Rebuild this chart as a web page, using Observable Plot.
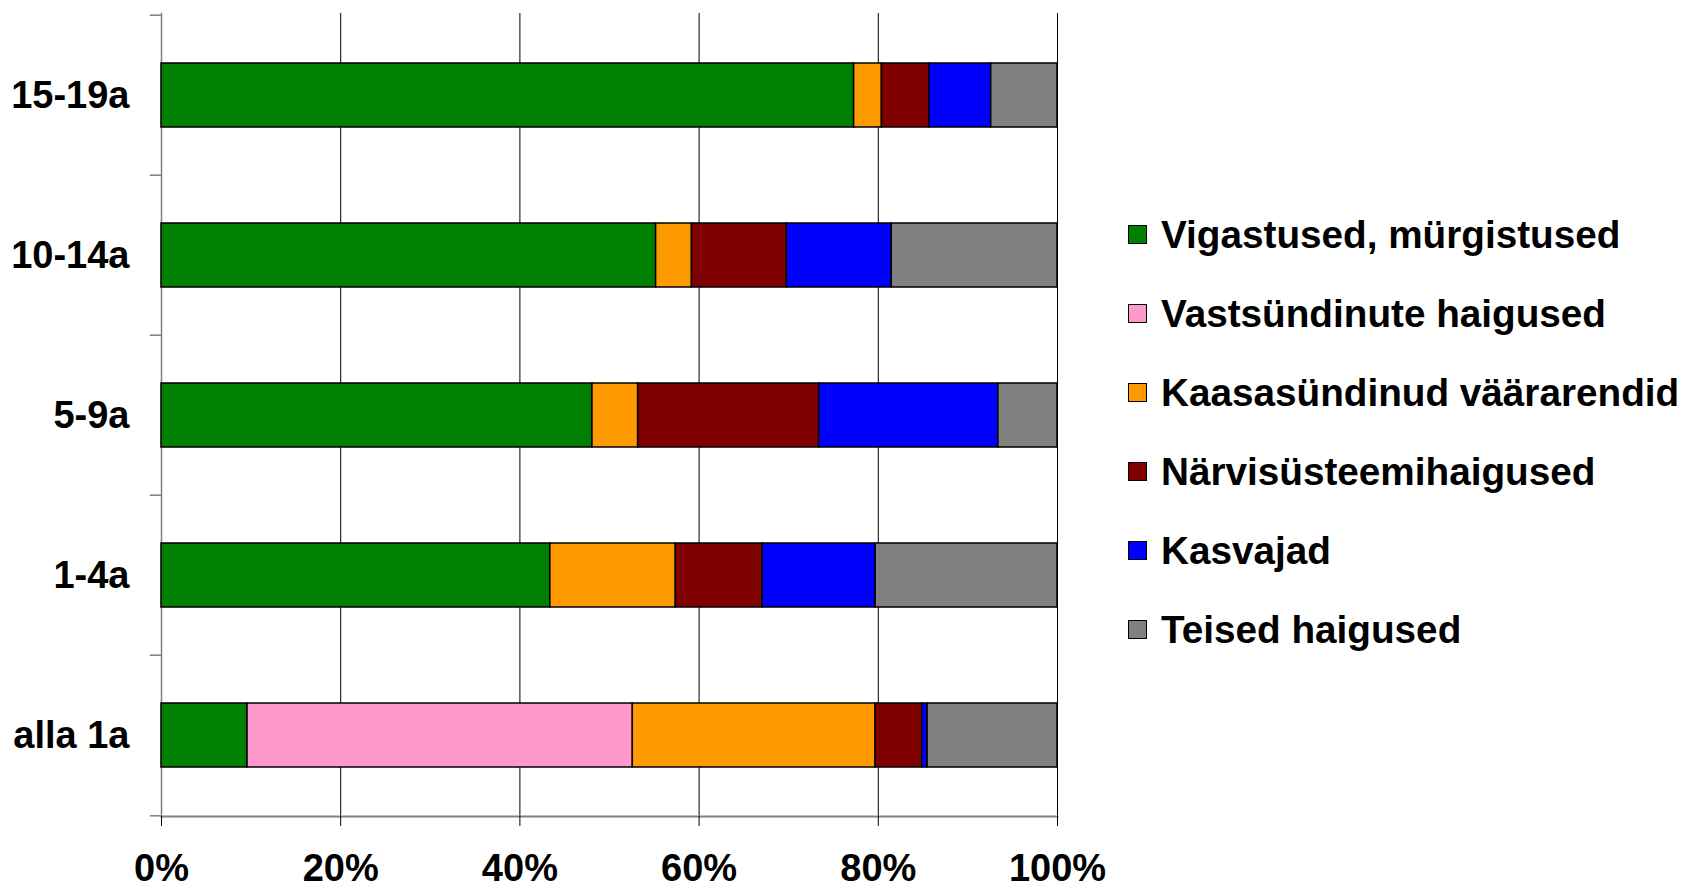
<!DOCTYPE html>
<html>
<head>
<meta charset="utf-8">
<script src="https://cdn.jsdelivr.net/npm/d3@7"></script>
<script src="https://cdn.jsdelivr.net/npm/@observablehq/plot@0.6"></script>
<style>
  html, body { margin: 0; padding: 0; background: white; }
  #wrap { position: relative; width: 1684px; height: 890px; font-family: "Liberation Sans", Arial, sans-serif; }
  #legend { position: absolute; left: 1128px; top: 195px; }
  .row { display: flex; align-items: center; height: 79px; }
  .sw { width: 19px; height: 19px; border: 1.5px solid #000; box-sizing: border-box; margin-right: 14px; }
  .lbl { font-size: 38.7px; font-weight: bold; color: #000; white-space: nowrap; }
</style>
</head>
<body>
<div id="wrap"><div id="chart"></div><div id="legend"></div></div>
<script>
const ageGroups = ["15-19a", "10-14a", "5-9a", "1-4a", "alla 1a"];
const causes = ["Vigastused, mürgistused", "Vastsündinute haigused", "Kaasasündinud väärarendid", "Närvisüsteemihaigused", "Kasvajad", "Teised haigused"];
const colors = ["#008000", "#FF99CC", "#FF9900", "#800000", "#0000FF", "#808080"];

const vigastused    = [77.3, 55.2, 48.1, 43.4, 9.6];
const vastsundinute = [0, 0, 0, 0, 43.0];
const kaasasundinud = [3.1, 4.0, 5.1, 14.0, 27.1];
const narvisusteem  = [5.3, 10.6, 20.2, 9.7, 5.2];
const kasvajad      = [6.9, 11.7, 20.0, 12.6, 0.6];
const teised        = [7.4, 18.5, 6.6, 20.3, 14.5];

const xTicks = [0, 20, 40, 60, 80, 100];

const series = [vigastused, vastsundinute, kaasasundinud, narvisusteem, kasvajad, teised];
const data = [];
causes.forEach((c, ci) => ageGroups.forEach((a, ai) => {
  if (series[ci][ai] > 0) data.push({age: a, cause: c, value: series[ci][ai]});
}));

const H = 890, mTop = 13, mBottom = 74;
const step = (H - mTop - mBottom) / ageGroups.length;

const chart = Plot.plot({
  width: 1684,
  height: H,
  marginLeft: 161,
  marginRight: 627,
  marginTop: mTop,
  marginBottom: mBottom,
  style: {fontFamily: '"Liberation Sans", Arial, sans-serif', background: "white", color: "black", overflow: "visible"},
  x: {domain: [0, 100]},
  y: {domain: ageGroups, paddingInner: 0.6, paddingOuter: 0.3},
  color: {domain: causes, range: colors},
  marks: [
    Plot.gridX(xTicks, {stroke: "#000", strokeOpacity: 1, strokeWidth: 1}),
    Plot.frame({anchor: "left", stroke: "#808080", strokeWidth: 1.5}),
    Plot.frame({anchor: "bottom", stroke: "#808080", strokeWidth: 2}),
    Plot.ruleY(ageGroups, {y: d => d, x1: -1.25, x2: 0, dy: -step / 2, stroke: "#808080", strokeWidth: 1.5}),
    Plot.ruleY(ageGroups.slice(-1), {y: d => d, x1: -1.25, x2: 0, dy: step / 2, stroke: "#808080", strokeWidth: 1.5}),
    Plot.barX(data, Plot.stackX({x: "value", y: "age", fill: "cause", stroke: "#000", strokeWidth: 1.5, order: causes})),
    Plot.axisX(xTicks, {tickSize: 10, tickPadding: 28, fontSize: 38, fontWeight: "bold", stroke: "#000", tickFormat: d => d + "%", label: null}),
    Plot.axisY({tickSize: 0, tickPadding: 32, fontSize: 38, fontWeight: "bold", label: null})
  ]
});
document.getElementById("chart").appendChild(chart);

const legend = d3.select("#legend");
causes.forEach((c, i) => {
  const row = legend.append("div").attr("class", "row");
  row.append("div").attr("class", "sw").style("background", colors[i]);
  row.append("div").attr("class", "lbl").text(c);
});
</script>
</body>
</html>
